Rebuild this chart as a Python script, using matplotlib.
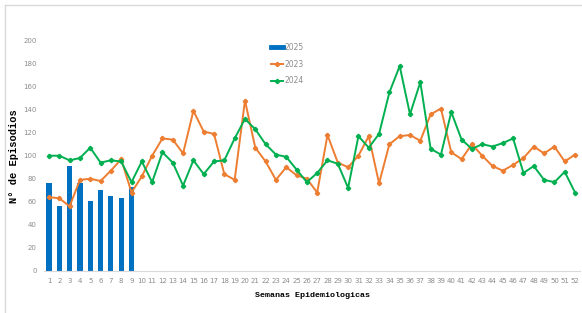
import numpy as np
import matplotlib
matplotlib.use('Agg')
import matplotlib.pyplot as plt
from matplotlib.lines import Line2D

# Semanas epidemiologicas
weeks = list(range(1, 53))
weeks_2025 = list(range(1, 10))

# Episodios por semana
ep_2025 = [76, 56, 91, 76, 61, 70, 65, 63, 73]
ep_2023 = [64, 63, 56, 79, 80, 78, 87, 97, 68, 82, 100, 115, 114, 102, 139, 121, 119, 84, 79, 148,
           107, 95, 79, 90, 83, 80, 68, 118, 94, 90, 100, 117, 76, 110, 117, 118, 113, 136, 141, 103,
           97, 110, 100, 91, 87, 92, 98, 108, 102, 108, 95, 101]
ep_2024 = [100, 100, 96, 98, 107, 94, 96, 95, 77, 95, 77, 103, 94, 74, 96, 84, 95, 96, 115, 132,
           123, 110, 101, 99, 88, 77, 85, 96, 93, 72, 117, 107, 119, 155, 178, 136, 164, 106, 101, 138,
           114, 106, 110, 108, 111, 115, 85, 91, 79, 77, 86, 68]

blue = '#0070C0'
orange = '#ED7D31'
green = '#00B050'
tick_gray = '#8C8C8C'

fig = plt.figure(figsize=(5.82, 3.13), dpi=100)
ax = fig.add_axes([0.0753, 0.1351, 0.9216, 0.7348])

ax.bar(weeks_2025, ep_2025, width=0.5, color=blue, zorder=1)
ax.plot(weeks, ep_2023, color=orange, lw=1.4, marker='P', markersize=2.8, zorder=2)
ax.plot(weeks, ep_2024, color=green, lw=1.4, marker='P', markersize=2.8, zorder=3)

ax.set_xlim(0.5, 52.5)
ax.set_ylim(0, 200)
ax.set_yticks(np.arange(0, 201, 20))
ax.set_xticks(weeks)
ax.tick_params(axis='both', length=0, labelsize=5, labelcolor=tick_gray, pad=5)
for side in ['top', 'right', 'left']:
    ax.spines[side].set_visible(False)
ax.spines['bottom'].set_color('#D9D9D9')
ax.spines['bottom'].set_linewidth(0.8)

ax.set_ylabel('N° de Episodios', fontsize=7.5, fontweight='bold', family='Liberation Mono')
ax.yaxis.set_label_coords(-0.046, 0.5)
ax.set_xlabel('Semanas Epidemiologicas', fontsize=6, fontweight='bold', family='Liberation Mono', labelpad=6)

handles = [
    Line2D([], [], color=blue, lw=3.5),
    Line2D([], [], color=orange, lw=1.4, marker='P', markersize=2.8),
    Line2D([], [], color=green, lw=1.4, marker='P', markersize=2.8),
]
leg = ax.legend(handles, ['2025', '2023', '2024'], loc='upper left', bbox_to_anchor=(0.41, 1.02),
                frameon=False, fontsize=5.5, handlelength=1.6, handletextpad=0.2, labelspacing=1.0)
for t in leg.get_texts():
    t.set_color(tick_gray)

# container border
fig.add_artist(Line2D([5 / 582, 5 / 582], [0, 1 - 5 / 313], transform=fig.transFigure, color='#D9D9D9', lw=1))
fig.add_artist(Line2D([5 / 582, 1], [1 - 5 / 313, 1 - 5 / 313], transform=fig.transFigure, color='#D9D9D9', lw=1))

fig.savefig('out.png', dpi=100)
